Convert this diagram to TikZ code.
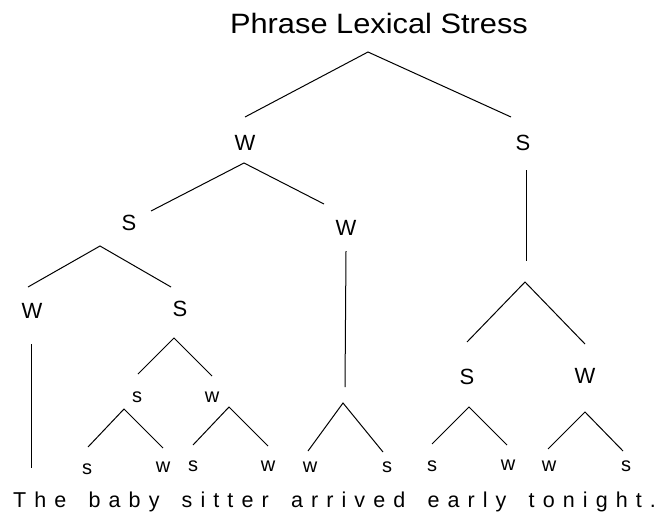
\documentclass[tikz,border=0pt]{standalone}
\usepackage{fontspec}
\usepackage{graphicx}
\setmainfont{Liberation Sans}
\newfontfamily\spacedfont[LetterSpace=37.7]{Liberation Sans}
\begin{document}
\begin{tikzpicture}[x=1pt,y=-1pt,
  big/.style={inner sep=0pt, font=\fontsize{22}{22}\selectfont},
  small/.style={inner sep=0pt, font=\fontsize{20}{20}\selectfont},
  word/.style={anchor=base west, inner sep=0pt, font=\fontsize{21.5}{24}\spacedfont},
  edge/.style={line width=1pt, black}]
\useasboundingbox (0,0) rectangle (660,519);
% title
\node[anchor=base, inner sep=0pt] (title) at (379,34) {\scalebox{1.1}[1]{\fontsize{28}{30}\selectfont Phrase Lexical Stress}};
% labels
\node[big] (W1) at (245,143) {W};
\node[big] (S1) at (523,143) {S};
\node[big] (S2) at (129,223) {S};
\node[big] (W2) at (346,228) {W};
\node[big] (W3) at (32,311) {W};
\node[big] (S3) at (180,309) {S};
\node[big] (S4) at (467,377) {S};
\node[big] (W4) at (585,376) {W};
\node[small] (s5) at (137,397) {s};
\node[small] (w5) at (212,397) {w};
\node[small] (b1) at (87,469) {s};
\node[small] (b2) at (163,467) {w};
\node[small] (b3) at (193,466) {s};
\node[small] (b4) at (268,466) {w};
\node[small] (b5) at (310,467) {w};
\node[small] (b6) at (387,467) {s};
\node[small] (b7) at (432,466) {s};
\node[small] (b8) at (508,465) {w};
\node[small] (b9) at (549,466) {w};
\node[small] (b10) at (626,466) {s};
% sentence
\node[word] (t1) at (13,507) {The};
\node[word] (t2) at (88.4,507) {baby};
\node[word] (t3) at (181.5,507) {sitter};
\node[word] (t4) at (290.8,507) {arrived};
\node[word] (t5) at (427.3,507) {early};
\node[word] (t6) at (528.5,507) {tonight.};
% apex and end points
\coordinate (r0) at (368,52);
\coordinate (r0l) at (245,117);
\coordinate (r0r) at (511,117);
\coordinate (w1a) at (244,163);
\coordinate (w1l) at (151,211);
\coordinate (w1r) at (324,204);
\coordinate (s1t) at (526,170);
\coordinate (s1b) at (526,261);
\coordinate (w2t) at (346,251);
\coordinate (w2b) at (345,387);
\coordinate (s2a) at (100,246);
\coordinate (s2l) at (28,287);
\coordinate (s2r) at (171,287);
\coordinate (w3t) at (31,344);
\coordinate (w3b) at (31,468);
\coordinate (s3a) at (174,338);
\coordinate (s3l) at (138,374);
\coordinate (s3r) at (212,376);
\coordinate (s5a) at (124,409);
\coordinate (s5l) at (88,447);
\coordinate (s5r) at (163,448);
\coordinate (w5a) at (229,407);
\coordinate (w5l) at (193,445);
\coordinate (w5r) at (268,446);
\coordinate (w2a) at (343,403);
\coordinate (w2l) at (308,451);
\coordinate (w2r) at (383,452);
\coordinate (s1a) at (525,282);
\coordinate (s1l) at (467,342);
\coordinate (s1r) at (585,344);
\coordinate (s4a) at (469,407);
\coordinate (s4l) at (432,444);
\coordinate (s4r) at (507,445);
\coordinate (w4a) at (585,412);
\coordinate (w4l) at (548,449);
\coordinate (w4r) at (623,451);
% connectors
\draw[edge] (r0l) -- (r0) -- (r0r);
\draw[edge] (w1l) -- (w1a) -- (w1r);
\draw[edge] (s1t) -- (s1b);
\draw[edge] (w2t) -- (w2b);
\draw[edge] (s2l) -- (s2a) -- (s2r);
\draw[edge] (w3t) -- (w3b);
\draw[edge] (s3l) -- (s3a) -- (s3r);
\draw[edge] (s5l) -- (s5a) -- (s5r);
\draw[edge] (w5l) -- (w5a) -- (w5r);
\draw[edge] (w2l) -- (w2a) -- (w2r);
\draw[edge] (s1l) -- (s1a) -- (s1r);
\draw[edge] (s4l) -- (s4a) -- (s4r);
\draw[edge] (w4l) -- (w4a) -- (w4r);
\end{tikzpicture}
\end{document}
